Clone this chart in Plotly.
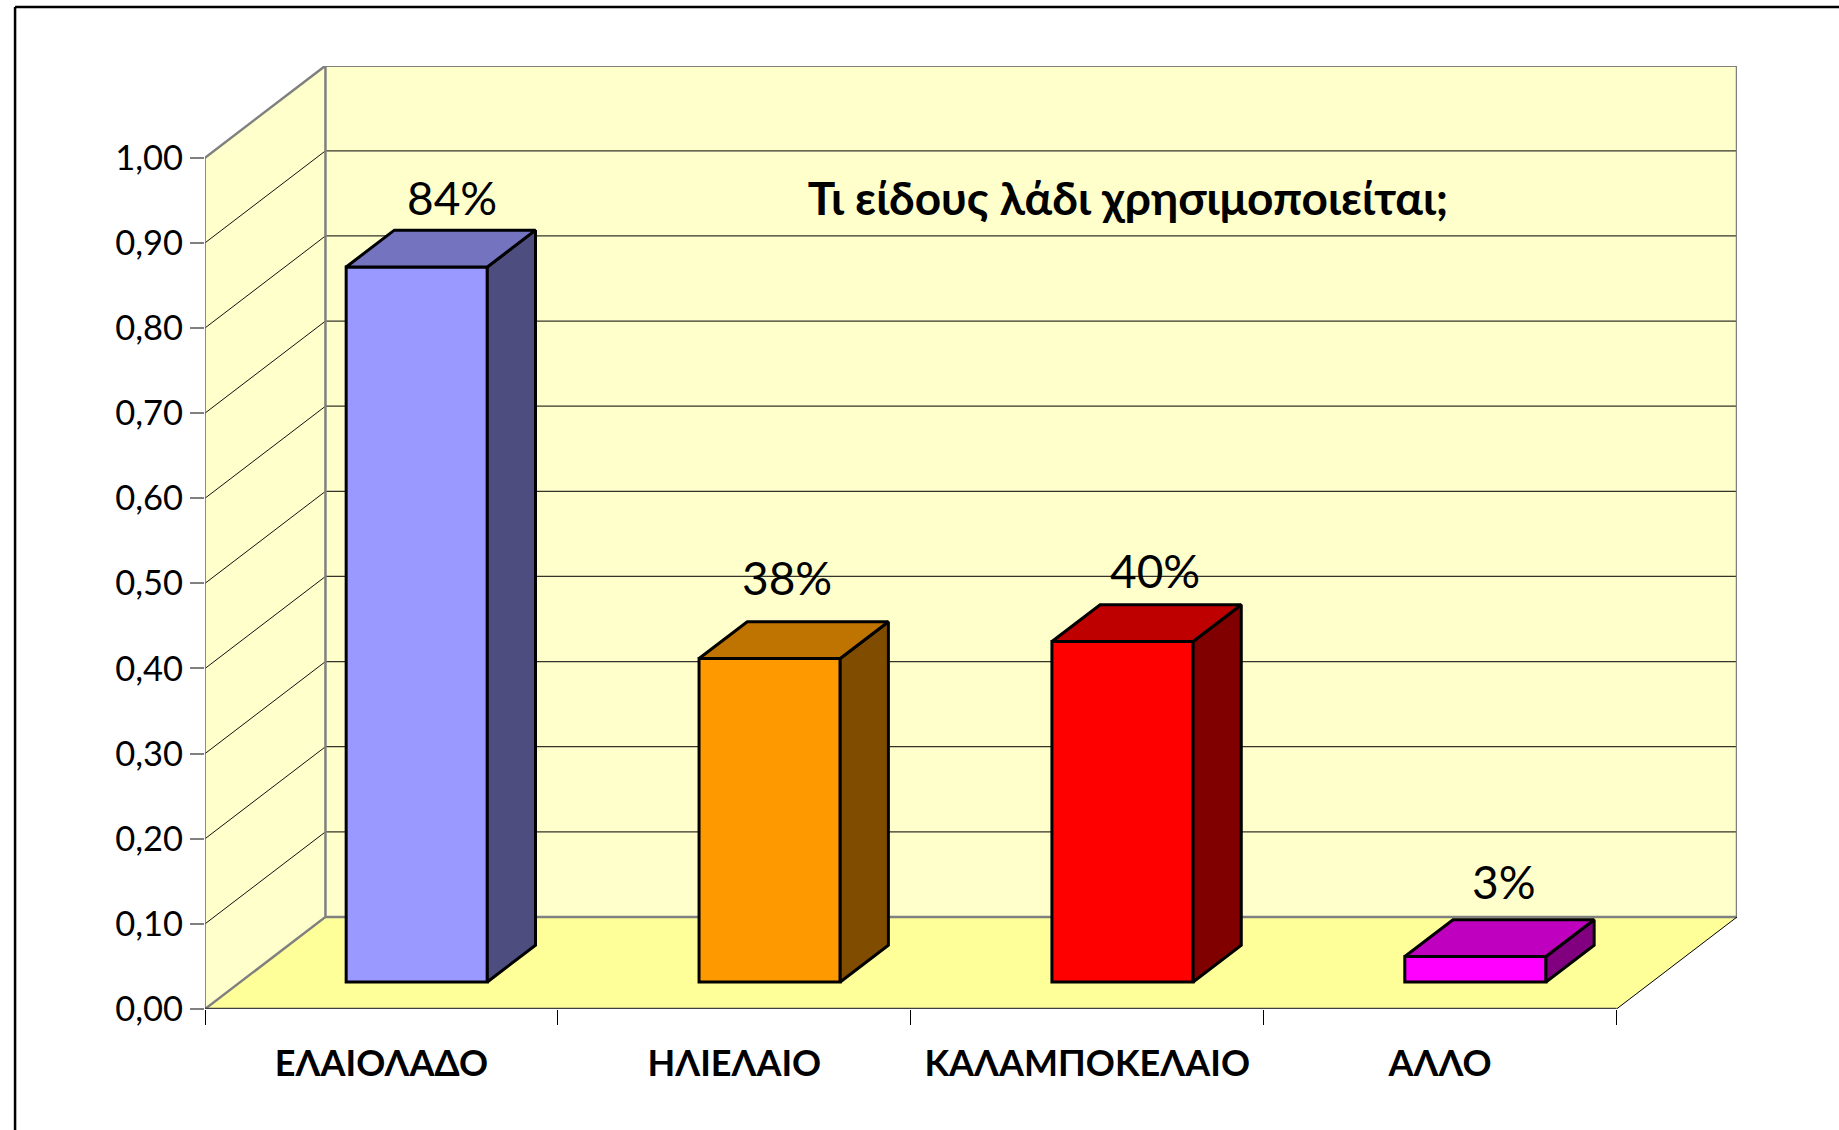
import plotly.graph_objects as go

# ---- data ----
categories = ["ΕΛΑΙΟΛΑΔΟ", "ΗΛΙΕΛΑΙΟ", "ΚΑΛΑΜΠΟΚΕΛΑΙΟ", "ΆΛΛΟ"]
values = [0.84, 0.38, 0.40, 0.03]
value_labels = ["84%", "38%", "40%", "3%"]
y_ticks = [0.0, 0.1, 0.2, 0.3, 0.4, 0.5, 0.6, 0.7, 0.8, 0.9, 1.0]
title_text = "Τι είδους λάδι χρησιμοποιείται;"

# ---- styling ----
front_colors = ["#9999FF", "#FF9900", "#FF0000", "#FF00FF"]
side_colors = ["#4D4D80", "#804D00", "#800000", "#800080"]
top_colors = ["#7373BF", "#BF7300", "#BF0000", "#BF00BF"]
label_dx = [70.5, 53, 68, 63.5]     # hand-placed labels in the original (px)
label_dy = [96, 108, 98, 102]
FONT = "Comic Sans MS, Lato, Noto Sans, sans-serif"

W, H = 1839, 1130
L, R, T, B = 204.5, 1737.0, 66.0, 1008.7   # plot box (pixels)
CAT_PX = 353.0
UNIT_PX = 851.0
DX = 120.5 / CAT_PX      # wall depth in x-axis units
DY = 92.0 / UNIT_PX      # wall depth in y-axis units
BAR_W = 0.40
D0, D1 = 0.293, 0.693    # bar depth span inside the floor
EDGE = 3
n = len(categories)


def poly(pts, close=True):
    return "M" + " L".join(f"{x:.5f},{y:.5f}" for x, y in pts) + (" Z" if close else "")


def px_x(p):
    return (p - L) / (R - L)


def px_y(p):
    return (B - p) / (B - T)


shapes = []


def add(pts, fill=None, color=None, width=0, close=True):
    shapes.append(dict(type="path", xref="x", yref="y", layer="below", path=poly(pts, close),
                       fillcolor=fill or "rgba(0,0,0,0)",
                       line=dict(color=color or "rgba(0,0,0,0)", width=width)))


top = y_ticks[-1]
# side wall, back wall, floor
add([(0, 0), (DX, DY), (DX, top + DY), (0, top)], fill="#FFFFCC")
add([(DX, DY), (n + DX, DY), (n + DX, top + DY), (DX, top + DY)], fill="#FFFFCC")
add([(0, 0), (n, 0), (n + DX, DY), (DX, DY)], fill="#FFFF99")
# grid lines on both walls
for v in y_ticks[1:-1]:
    add([(DX, v + DY), (n + DX, v + DY)], color="#333328", width=1.2, close=False)
    add([(0, v), (DX, v + DY)], color="#111111", width=1, close=False)
# wall edges
grey = "#808080"
add([(0, top), (DX, top + DY), (n + DX, top + DY), (n + DX, DY), (DX, DY)], color=grey, width=2.5, close=False)
add([(DX, top + DY), (DX, DY), (0, 0)], color=grey, width=2.5, close=False)
add([(n, 0), (n + DX, DY)], color="#000000", width=1, close=False)
add([(0, 0), (0, top)], color="#666666", width=1.5, close=False)
add([(0, 0), (n, 0)], color="#404040", width=2.5, close=False)

# picture frame: top and left rules running off the page
frame_x, frame_y = 14.5, 7.0
shapes.append(dict(type="line", xref="paper", yref="paper", layer="above",
                   x0=px_x(frame_x), y0=px_y(frame_y), x1=px_x(W + 5), y1=px_y(frame_y),
                   line=dict(color="#000000", width=2.5)))
shapes.append(dict(type="line", xref="paper", yref="paper", layer="above",
                   x0=px_x(frame_x), y0=px_y(frame_y), x1=px_x(frame_x), y1=px_y(H + 5),
                   line=dict(color="#000000", width=2.5)))

fig = go.Figure()

# front faces of the bars, sitting part way back on the floor
centers = [i + 0.5 for i in range(n)]
fig.add_trace(go.Bar(
    x=[c + D0 * DX for c in centers],
    y=values,
    base=[D0 * DY] * n,
    width=BAR_W,
    marker=dict(color=front_colors, line=dict(color="#000000", width=EDGE)),
    hoverinfo="skip", showlegend=False,
))

BD = (D1 - D0)
for c, v, sc, tc in zip(centers, values, side_colors, top_colors):
    x0 = c - BAR_W / 2 + D0 * DX
    x1 = c + BAR_W / 2 + D0 * DX
    y0 = D0 * DY
    y1 = v + D0 * DY
    ox, oy = BD * DX, BD * DY
    fig.add_trace(go.Scatter(x=[x1, x1 + ox, x1 + ox, x1, x1], y=[y0, y0 + oy, y1 + oy, y1, y0],
                             mode="lines", fill="toself", fillcolor=sc,
                             line=dict(color="#000000", width=EDGE),
                             hoverinfo="skip", showlegend=False))
    fig.add_trace(go.Scatter(x=[x0, x1, x1 + ox, x0 + ox, x0], y=[y1, y1, y1 + oy, y1 + oy, y1],
                             mode="lines", fill="toself", fillcolor=tc,
                             line=dict(color="#000000", width=EDGE),
                             hoverinfo="skip", showlegend=False))

annotations = [
    dict(x=c, y=v, xref="x", yref="y", text=t, showarrow=False, xshift=dx, yshift=dy,
         xanchor="center", yanchor="middle", font=dict(family=FONT, size=46, color="#000000"))
    for c, v, t, dx, dy in zip(centers, values, value_labels, label_dx, label_dy)
]

fig.update_layout(
    width=W, height=H, autosize=False,
    margin=dict(l=L, r=W - R, t=T, b=H - B, pad=0),
    paper_bgcolor="#FFFFFF", plot_bgcolor="#FFFFFF",
    separators=",.",
    showlegend=False,
    shapes=shapes,
    annotations=annotations,
    title=dict(text=title_text, x=1128 / W, xanchor="center",
               y=1 - 199 / H, yanchor="middle",
               font=dict(family=FONT, size=46, color="#000000", weight="bold")),
    xaxis=dict(range=[0, (R - L) / CAT_PX], tickmode="array", tickvals=centers, ticktext=categories,
               ticks="", showgrid=False, zeroline=False, showline=False, ticklabelstandoff=30,
               tickfont=dict(family=FONT, size=36, color="#000000", weight="bold"),
               minor=dict(tick0=0, dtick=1, ticks="outside", ticklen=15, tickwidth=1, tickcolor="#000000",
                          showgrid=False)),
    yaxis=dict(range=[0, (B - T) / UNIT_PX], tickmode="array", tickvals=y_ticks, tickformat=".2f",
               ticks="outside", ticklen=14, tickwidth=2, tickcolor="#808080",
               showgrid=False, zeroline=False, showline=False,
               tickfont=dict(family=FONT, size=34.5, color="#000000")),
)

fig.write_html("out.html", config=dict(displayModeBar=False),
               post_script="document.body.style.margin='0';document.body.style.overflow='hidden';")
